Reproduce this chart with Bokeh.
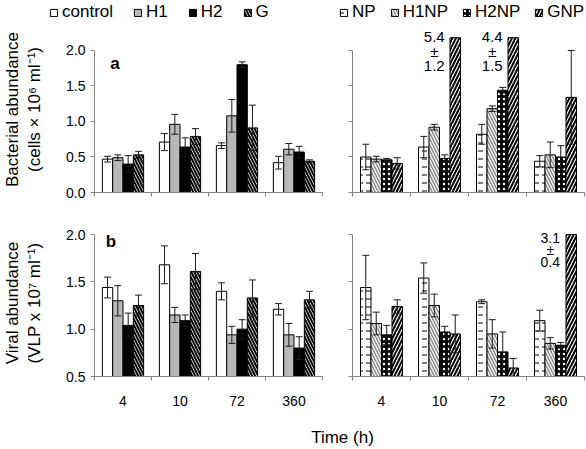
import numpy as np
from bokeh.plotting import figure
from bokeh.layouts import column, row
from bokeh.models import FixedTicker, Range1d, Legend, LegendItem, PrintfTickFormatter
from bokeh.core.properties import value
from bokeh.embed import file_html
from bokeh.resources import INLINE

FONT = "Liberation Sans"

# ---------------- data ----------------
times = ["4", "10", "72", "360"]
left_series = ["control", "H1", "H2", "G"]
right_series = ["NP", "H1NP", "H2NP", "GNP"]
bac_ticks = [0.0, 0.5, 1.0, 1.5, 2.0]
vir_ticks = [0.5, 1.0, 1.5, 2.0]

# Bacterial abundance (cells x 10^6 ml^-1)
bac_control = [0.47, 0.71, 0.66, 0.42]
bac_control_err = [0.04, 0.12, 0.04, 0.09]
bac_H1 = [0.49, 0.96, 1.08, 0.61]
bac_H1_err = [0.04, 0.14, 0.23, 0.08]
bac_H2 = [0.40, 0.64, 1.80, 0.57]
bac_H2_err = [0.12, 0.13, 0.04, 0.08]
bac_G = [0.53, 0.79, 0.91, 0.44]
bac_G_err = [0.05, 0.11, 0.32, 0.02]

bac_NP = [0.50, 0.64, 0.82, 0.44]
bac_NP_err = [0.18, 0.15, 0.14, 0.08]
bac_H1NP = [0.47, 0.92, 1.18, 0.53]
bac_H1NP_err = [0.04, 0.04, 0.04, 0.18]
bac_H2NP = [0.46, 0.48, 1.44, 0.50]
bac_H2NP_err = [0.02, 0.05, 0.04, 0.16]
bac_GNP = [0.41, 5.4, 4.4, 1.34]
bac_GNP_err = [0.08, 1.2, 1.5, 0.66]

# Viral abundance (VLP x 10^7 ml^-1)
vir_control = [1.44, 1.68, 1.40, 1.21]
vir_control_err = [0.11, 0.20, 0.09, 0.06]
vir_H1 = [1.30, 1.15, 0.94, 0.94]
vir_H1_err = [0.16, 0.08, 0.09, 0.12]
vir_H2 = [1.04, 1.09, 1.00, 0.80]
vir_H2_err = [0.13, 0.06, 0.10, 0.12]
vir_G = [1.25, 1.61, 1.33, 1.31]
vir_G_err = [0.11, 0.19, 0.19, 0.09]

vir_NP = [1.44, 1.54, 1.29, 1.09]
vir_NP_err = [0.34, 0.16, 0.02, 0.11]
vir_H1NP = [1.06, 1.25, 0.95, 0.85]
vir_H1NP_err = [0.12, 0.12, 0.15, 0.06]
vir_H2NP = [0.94, 0.97, 0.76, 0.83]
vir_H2NP_err = [0.10, 0.06, 0.21, 0.03]
vir_GNP = [1.24, 0.95, 0.59, 3.1]
vir_GNP_err = [0.07, 0.20, 0.10, 0.4]

bac_left = {"control": (bac_control, bac_control_err), "H1": (bac_H1, bac_H1_err),
            "H2": (bac_H2, bac_H2_err), "G": (bac_G, bac_G_err)}
bac_right = {"NP": (bac_NP, bac_NP_err), "H1NP": (bac_H1NP, bac_H1NP_err),
             "H2NP": (bac_H2NP, bac_H2NP_err), "GNP": (bac_GNP, bac_GNP_err)}
vir_left = {"control": (vir_control, vir_control_err), "H1": (vir_H1, vir_H1_err),
            "H2": (vir_H2, vir_H2_err), "G": (vir_G, vir_G_err)}
vir_right = {"NP": (vir_NP, vir_NP_err), "H1NP": (vir_H1NP, vir_H1NP_err),
             "H2NP": (vir_H2NP, vir_H2NP_err), "GNP": (vir_GNP, vir_GNP_err)}

# ---------------- styles ----------------
styles = {
    "control": dict(fill_color="white"),
    "H1": dict(fill_color="#b8b8b8"),
    "H2": dict(fill_color="black"),
    "G": dict(fill_color="white", hatch_pattern="left_diagonal_line", hatch_color="black",
              hatch_scale=6, hatch_weight=2),
    "NP": dict(fill_color="white", hatch_pattern="horizontal_dash", hatch_color="black",
               hatch_scale=8, hatch_weight=1),
    "H1NP": dict(fill_color="white", hatch_pattern="left_diagonal_line", hatch_color="#8c8c8c",
                 hatch_scale=6, hatch_weight=1.5),
    "H2NP": dict(fill_color="black", hatch_pattern="dot", hatch_color="white",
                 hatch_scale=5, hatch_weight=0.6),
    "GNP": dict(fill_color="white", hatch_pattern="right_diagonal_line", hatch_color="black",
                hatch_scale=7, hatch_weight=2),
}

AXIS_COLOR = "#858585"
BAR_W = 0.181
CAP_W = 0.06


def make_fig(w, h, bl, br, bt, bb, yr, ticks, show_ylabels, ylabel, show_xlabels):
    p = figure(width=w, height=h, x_range=Range1d(0, 4), y_range=Range1d(*yr),
               toolbar_location=None, output_backend="svg",
               min_border_left=bl, min_border_right=br, min_border_top=bt, min_border_bottom=bb)
    p.grid.visible = False
    p.outline_line_color = None
    p.background_fill_color = "white"
    p.border_fill_color = "white"

    xa = p.xaxis[0]
    centers = [i + 0.5 for i in range(len(times))]
    edges = list(range(len(times) + 1))
    if show_xlabels:
        xa.ticker = FixedTicker(ticks=centers, minor_ticks=edges)
        xa.major_label_overrides = {c: t for c, t in zip(centers, times)}
        xa.major_label_text_font_size = "14px"
        xa.major_label_standoff = 15
    else:
        xa.ticker = FixedTicker(ticks=[], minor_ticks=edges)
        xa.major_label_standoff = 0
    xa.major_tick_out = 0
    xa.major_tick_in = 0
    xa.minor_tick_out = 4
    xa.minor_tick_in = 0
    xa.axis_line_color = AXIS_COLOR
    xa.minor_tick_line_color = AXIS_COLOR
    xa.major_label_text_font = FONT
    xa.major_label_text_color = "black"

    ya = p.yaxis[0]
    ya.bounds = (ticks[0], ticks[-1])
    ya.major_tick_in = 0
    ya.minor_tick_in = 0
    ya.axis_line_color = AXIS_COLOR
    ya.major_tick_line_color = AXIS_COLOR
    ya.minor_tick_line_color = AXIS_COLOR
    ya.major_label_text_font = FONT
    ya.major_label_text_color = "black"
    if show_ylabels:
        ya.ticker = FixedTicker(ticks=ticks)
        ya.formatter = PrintfTickFormatter(format="%.1f")
        ya.major_tick_out = 4
        ya.minor_tick_out = 0
        ya.major_label_text_font_size = "14px"
        ya.major_label_standoff = 5
        ya.axis_label = ylabel
        ya.axis_label_text_font = FONT
        ya.axis_label_text_font_size = "17px"
        ya.axis_label_text_font_style = "normal"
        ya.axis_label_text_color = "black"
        ya.axis_label_standoff = 19
        ya.axis_label_text_line_height = 1.15
    else:
        ya.ticker = FixedTicker(ticks=[], minor_ticks=ticks)
        ya.major_tick_out = 0
        ya.minor_tick_out = 4
        ya.major_label_standoff = 0
    return p


def draw_bars(p, names, data, base, brk, label_y, label_size, line_gap):
    n = len(names)
    idx = np.arange(len(times))
    for j, name in enumerate(names):
        vals = np.array(data[name][0], dtype=float)
        x = idx + 0.5 + (j - (n - 1) / 2) * BAR_W
        top = np.minimum(vals, brk)
        p.vbar(x=x, top=top, bottom=base, width=BAR_W, line_color="black", line_width=1,
               **styles[name])
    for j, name in enumerate(names):
        vals = np.array(data[name][0], dtype=float)
        errs = np.array(data[name][1], dtype=float)
        x = idx + 0.5 + (j - (n - 1) / 2) * BAR_W
        ok = vals <= brk
        xs, lo, hi = x[ok], (vals - errs)[ok], (vals + errs)[ok]
        p.segment(x0=xs, y0=lo, x1=xs, y1=hi, line_color="#1a1a1a", line_width=1)
        p.segment(x0=xs - CAP_W, y0=hi, x1=xs + CAP_W, y1=hi, line_color="#1a1a1a", line_width=1)
        p.segment(x0=xs - CAP_W, y0=lo, x1=xs + CAP_W, y1=lo, line_color="#1a1a1a", line_width=1)
        big = vals > brk
        if big.any():
            # off-scale values written above the clipped bar, centred on the H1NP bar
            tx = (idx + 0.5 + (1 - (n - 1) / 2) * BAR_W)[big]
            ty = [label_y] * int(big.sum())
            lines = [[f"{v:.1f}" for v in vals[big]], ["±"] * int(big.sum()),
                     [f"{e:.1f}" for e in errs[big]]]
            for k, txt in enumerate(lines):
                p.text(x=tx, y=ty, text=txt, y_offset=(k - 1) * line_gap,
                       text_align="center", text_baseline="middle",
                       text_font=value(FONT), text_font_size=label_size, text_color="black")


def panel_letter(p, x, y, letter):
    p.text(x=[x], y=[y], text=[letter], text_align="center", text_baseline="middle",
           text_font=value(FONT), text_font_size="17px", text_font_style="bold",
           text_color="black")


# ---------------- panels ----------------
LW, RW = 326, 260
HA, HB = 180, 206

a_l = make_fig(LW, HA, 90, 4, 0, 14, (0, 2.338), bac_ticks, True,
               "Bacterial abundance\n(cells × 10⁶ ml⁻¹)", False)
a_r = make_fig(RW, HA, 26, 2, 0, 14, (0, 2.338), bac_ticks, False, None, False)
b_l = make_fig(LW, HB, 90, 4, 23, 36, (0.5, 2.053), vir_ticks, True,
               "Viral abundance\n(VLP x 10⁷ ml⁻¹)", True)
b_r = make_fig(RW, HB, 26, 2, 23, 36, (0.5, 2.053), vir_ticks, False, None, True)

draw_bars(a_l, left_series, bac_left, 0, 2.18, 1.99, "15px", 14.5)
draw_bars(a_r, right_series, bac_right, 0, 2.18, 1.99, "15px", 14.5)
draw_bars(b_l, left_series, vir_left, 0.5, 2.0, 1.84, "14px", 12)
draw_bars(b_r, right_series, vir_right, 0.5, 2.0, 1.84, "14px", 12)

panel_letter(a_l, 0.36, 1.82, "a")
panel_letter(b_l, 0.29, 1.93, "b")

# ---------------- legend header ----------------
hdr = figure(width=586, height=26, x_range=Range1d(0, 1), y_range=Range1d(0, 1),
             x_axis_type=None, y_axis_type=None, toolbar_location=None,
             output_backend="svg", min_border=0)
hdr.outline_line_color = None
hdr.grid.visible = False
rends = {}
for name in left_series + right_series:
    # legend-only renderers: the single bar lies outside the visible range
    rends[name] = hdr.vbar(x=[5], top=[5], bottom=[4], width=0.1, line_color="black",
                           line_width=1, **styles[name])


def make_legend(names, loc, spacing):
    return Legend(items=[LegendItem(label=value(n), renderers=[rends[n]]) for n in names],
                  location=loc, orientation="horizontal", glyph_width=9, glyph_height=9,
                  label_standoff=4, spacing=spacing, padding=0, margin=0,
                  label_height=20, label_text_font=FONT, label_text_font_size="17px",
                  label_text_color="black", border_line_color=None,
                  background_fill_alpha=0)


hdr.add_layout(make_legend(left_series, (49, 4), 20))
hdr.add_layout(make_legend(right_series, (339, 4), 14))

# ---------------- footer ----------------
ftr = figure(width=586, height=36, x_range=Range1d(0, 586), y_range=Range1d(0, 36),
             x_axis_type=None, y_axis_type=None, toolbar_location=None,
             output_backend="svg", min_border=0)
ftr.outline_line_color = None
ftr.grid.visible = False
ftr.text(x=[342], y=[11], text=["Time (h)"], text_align="center", text_baseline="middle",
         text_font=value(FONT), text_font_size="17px", text_color="black")

layout = column(hdr, row(a_l, a_r), row(b_l, b_r), ftr)

open("out.html", "w").write(file_html(layout, INLINE, "chart"))
